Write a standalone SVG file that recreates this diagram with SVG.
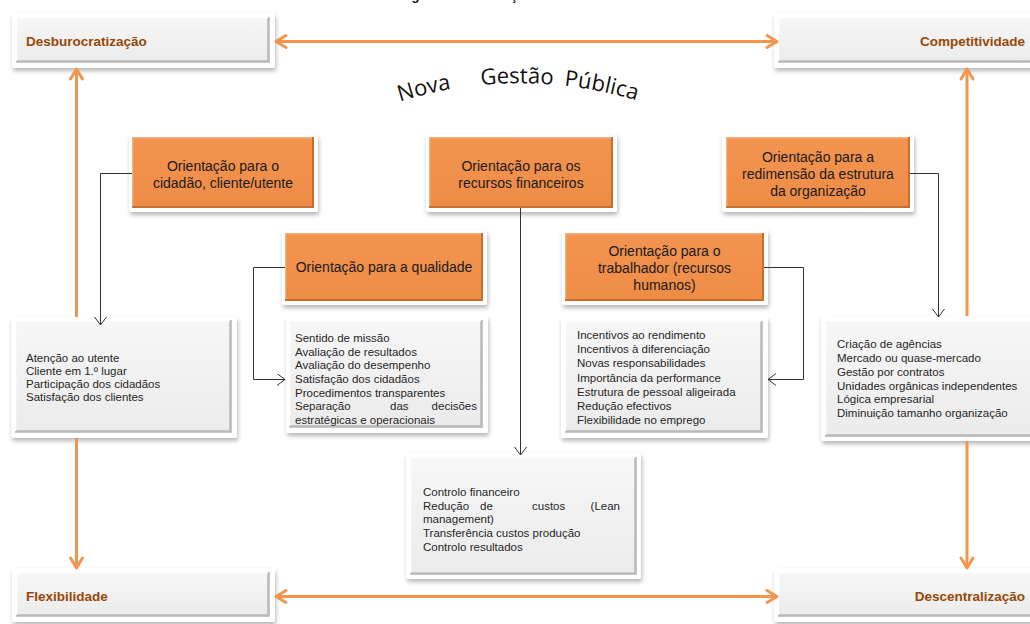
<svg xmlns="http://www.w3.org/2000/svg" width="1030" height="624" viewBox="0 0 1030 624">
  <defs>
    <filter id="shadow" x="-10%" y="-15%" width="125%" height="145%">
      <feDropShadow dx="1" dy="3" stdDeviation="2" flood-color="#000" flood-opacity="0.28"/>
    </filter>
    <linearGradient id="greyFill" x1="0" y1="0" x2="0" y2="1">
      <stop offset="0" stop-color="#F7F7F7"/>
      <stop offset="1" stop-color="#EBEBEB"/>
    </linearGradient>
    <linearGradient id="orangeFill" x1="0" y1="0" x2="0" y2="1">
      <stop offset="0" stop-color="#F29451"/>
      <stop offset="1" stop-color="#EE8C45"/>
    </linearGradient>
    <marker id="orangeHead" markerUnits="userSpaceOnUse" markerWidth="18" markerHeight="18" refX="14" refY="9" orient="auto-start-reverse">
      <path d="M4,3 L14,9 L4,15" fill="none" stroke="#F2954F" stroke-width="3" stroke-linecap="round" stroke-linejoin="round"/>
    </marker>
    <marker id="greyHead" markerUnits="userSpaceOnUse" markerWidth="12" markerHeight="14" refX="9" refY="6" orient="auto">
      <path d="M1,0 L9,6 L1,12" fill="none" stroke="#333" stroke-width="1"/>
    </marker>
    <path id="arch" d="M380,108.5 A400,400 0 0 1 660,108.5" fill="none"/>
  </defs>
  <style>
    .frame { fill: #FFFFFF; filter: url(#shadow); }
    .grey { fill: url(#greyFill); }
    .orange { fill: url(#orangeFill); }
    .bevelDark { fill: none; stroke: #B9B9B9; stroke-width: 2.5; }
    .bevelLight { fill: none; stroke: #FFFFFF; stroke-width: 1.5; }
    .bevelOrangeDark { fill: none; stroke: #C46E30; stroke-width: 2; }
    .bevelOrangeLight { fill: none; stroke: #F6B282; stroke-width: 1.2; }
    .corner { font-family: "Liberation Sans", Arial, sans-serif; font-weight: bold; font-size: 13.5px; fill: #974806; }
    .head { font-family: "Liberation Sans", Arial, sans-serif; font-size: 14px; fill: #1A1A1A; text-anchor: middle; }
    .item { font-family: "Liberation Sans", Arial, sans-serif; font-size: 11.5px; fill: #262626; }
    .arch { font-family: "Open Sans", "Liberation Sans", sans-serif; font-size: 22px; fill: #111; }
    .title { font-family: "Liberation Sans", Arial, sans-serif; font-weight: bold; font-size: 13px; fill: #111; }
    .orangeLink { fill: none; stroke: #F2954F; stroke-width: 3; marker-end: url(#orangeHead); }
    .orangeBoth { fill: none; stroke: #F2954F; stroke-width: 3; marker-start: url(#orangeHead); marker-end: url(#orangeHead); }
    .greyLink { fill: none; stroke: #333; stroke-width: 1; marker-end: url(#greyHead); }
  </style>

  <rect width="1030" height="624" fill="#FFFFFF"/>

  <!-- page title, sitting above the top edge so only its descenders fall inside -->
  <text class="title" x="400" y="0">Figura 2 – Orientações da Nova Gestão Pública</text>

  <!-- arched heading -->
  <g id="heading">
    <text class="arch"><textPath href="#arch" startOffset="21">Nova</textPath></text>
    <text class="arch"><textPath href="#arch" startOffset="104">Gestão</textPath></text>
    <text class="arch"><textPath href="#arch" startOffset="187">Pública</textPath></text>
  </g>

  <!-- corner principles -->
  <g id="desburocratizacao">
    <rect class="frame" x="12" y="13" width="263" height="55" rx="2"/>
    <rect class="grey" x="16" y="17" width="254" height="46"/>
    <path class="bevelDark" d="M16,61.5 H268.5 V17"/>
    <path class="bevelLight" d="M16.5,61 V17.5 H268"/>
    <text class="corner" x="26" y="46">Desburocratização</text>
  </g>
  <g id="competitividade">
    <rect class="frame" x="774" y="13" width="270" height="55" rx="2"/>
    <rect class="grey" x="778" y="17" width="262" height="46"/>
    <path class="bevelDark" d="M778,61.5 H1040"/>
    <path class="bevelLight" d="M778.5,61 V17.5 H1040"/>
    <text class="corner" x="1025" y="46" text-anchor="end">Competitividade</text>
  </g>
  <g id="flexibilidade">
    <rect class="frame" x="12" y="568" width="263" height="54" rx="2"/>
    <rect class="grey" x="16" y="572" width="254" height="45"/>
    <path class="bevelDark" d="M16,615.5 H268.5 V572"/>
    <path class="bevelLight" d="M16.5,615 V572.5 H268"/>
    <text class="corner" x="26" y="601">Flexibilidade</text>
  </g>
  <g id="descentralizacao">
    <rect class="frame" x="774" y="568" width="270" height="54" rx="2"/>
    <rect class="grey" x="778" y="572" width="262" height="45"/>
    <path class="bevelDark" d="M778,615.5 H1040"/>
    <path class="bevelLight" d="M778.5,615 V572.5 H1040"/>
    <text class="corner" x="1025" y="601" text-anchor="end">Descentralização</text>
  </g>

  <!-- orientation headers -->
  <g id="orient-cidadao">
    <rect class="frame" x="129" y="134" width="189" height="78" rx="2"/>
    <rect class="orange" x="132" y="137" width="182" height="71"/>
    <path class="bevelOrangeDark" d="M132,207 H313 V137"/>
    <path class="bevelOrangeLight" d="M132.6,206 V137.6 H312"/>
    <text class="head" x="223" y="171">Orientação para o</text>
    <text class="head" x="223" y="188">cidadão, cliente/utente</text>
  </g>
  <g id="orient-financeiros">
    <rect class="frame" x="426" y="134" width="191" height="78" rx="2"/>
    <rect class="orange" x="429" y="137" width="184" height="71"/>
    <path class="bevelOrangeDark" d="M429,207 H612 V137"/>
    <path class="bevelOrangeLight" d="M429.6,206 V137.6 H611"/>
    <text class="head" x="521" y="171">Orientação para os</text>
    <text class="head" x="521" y="188">recursos financeiros</text>
  </g>
  <g id="orient-estrutura">
    <rect class="frame" x="722" y="134" width="192" height="78" rx="2"/>
    <rect class="orange" x="726" y="137" width="184" height="71"/>
    <path class="bevelOrangeDark" d="M726,207 H909 V137"/>
    <path class="bevelOrangeLight" d="M726.6,206 V137.6 H908"/>
    <text class="head" x="818" y="162">Orientação para a</text>
    <text class="head" x="818" y="179">redimensão da estrutura</text>
    <text class="head" x="818" y="196">da organização</text>
  </g>
  <g id="orient-qualidade">
    <rect class="frame" x="282" y="230" width="205" height="75" rx="2"/>
    <rect class="orange" x="285" y="233" width="198" height="68"/>
    <path class="bevelOrangeDark" d="M285,300 H482 V233"/>
    <path class="bevelOrangeLight" d="M285.6,299 V233.6 H481"/>
    <text class="head" x="384" y="272">Orientação para a qualidade</text>
  </g>
  <g id="orient-trabalhador">
    <rect class="frame" x="562" y="230" width="206" height="75" rx="2"/>
    <rect class="orange" x="565" y="233" width="199" height="68"/>
    <path class="bevelOrangeDark" d="M565,300 H763 V233"/>
    <path class="bevelOrangeLight" d="M565.6,299 V233.6 H762"/>
    <text class="head" x="664.5" y="256">Orientação para o</text>
    <text class="head" x="664.5" y="273">trabalhador (recursos</text>
    <text class="head" x="664.5" y="290">humanos)</text>
  </g>

  <!-- detail lists -->
  <g id="list-cidadao">
    <rect class="frame" x="11" y="317" width="226" height="121" rx="2"/>
    <rect class="grey" x="15" y="320" width="217" height="113"/>
    <path class="bevelDark" d="M15,431.5 H230.5 V320"/>
    <path class="bevelLight" d="M15.5,431 V320.5 H230"/>
    <text class="item" x="26" y="362">Atenção ao utente</text>
    <text class="item" x="26" y="375">Cliente em 1.º lugar</text>
    <text class="item" x="26" y="388">Participação dos cidadãos</text>
    <text class="item" x="26" y="401">Satisfação dos clientes</text>
  </g>
  <g id="list-qualidade">
    <rect class="frame" x="286" y="316" width="202" height="117" rx="2"/>
    <rect class="grey" x="289" y="320" width="194" height="108"/>
    <path class="bevelDark" d="M289,426.5 H481.5 V320"/>
    <path class="bevelLight" d="M289.5,426 V320.5 H481"/>
    <text class="item" x="295" y="342">Sentido de missão</text>
    <text class="item" x="295" y="356">Avaliação de resultados</text>
    <text class="item" x="295" y="369">Avaliação do desempenho</text>
    <text class="item" x="295" y="383">Satisfação dos cidadãos</text>
    <text class="item" x="295" y="397">Procedimentos transparentes</text>
    <text class="item" y="410"><tspan x="295">Separação</tspan><tspan x="390">das</tspan><tspan x="477" text-anchor="end">decisões</tspan></text>
    <text class="item" x="295" y="424">estratégicas e operacionais</text>
  </g>
  <g id="list-financeiros">
    <rect class="frame" x="406" y="453" width="235" height="126" rx="2"/>
    <rect class="grey" x="410" y="457" width="227" height="118"/>
    <path class="bevelDark" d="M410,573.5 H635.5 V457"/>
    <path class="bevelLight" d="M410.5,573 V457.5 H635"/>
    <text class="item" x="423" y="496">Controlo financeiro</text>
    <text class="item" y="510"><tspan x="423">Redução</tspan><tspan x="480">de</tspan><tspan x="532">custos</tspan><tspan x="620" text-anchor="end">(Lean</tspan></text>
    <text class="item" x="423" y="523">management)</text>
    <text class="item" x="423" y="537">Transferência custos produção</text>
    <text class="item" x="423" y="551">Controlo resultados</text>
  </g>
  <g id="list-trabalhador">
    <rect class="frame" x="561" y="317" width="207" height="121" rx="2"/>
    <rect class="grey" x="565" y="321" width="198" height="112"/>
    <path class="bevelDark" d="M565,431.5 H761.5 V321"/>
    <path class="bevelLight" d="M565.5,431 V321.5 H761"/>
    <text class="item" x="577" y="339">Incentivos ao rendimento</text>
    <text class="item" x="577" y="353">Incentivos à diferenciação</text>
    <text class="item" x="577" y="367">Novas responsabilidades</text>
    <text class="item" x="577" y="382">Importância da performance</text>
    <text class="item" x="577" y="396">Estrutura de pessoal aligeirada</text>
    <text class="item" x="577" y="410">Redução efectivos</text>
    <text class="item" x="577" y="424">Flexibilidade no emprego</text>
  </g>
  <g id="list-estrutura">
    <rect class="frame" x="821" y="316" width="220" height="125" rx="2"/>
    <rect class="grey" x="825" y="320" width="215" height="117"/>
    <path class="bevelDark" d="M825,435.5 H1040"/>
    <path class="bevelLight" d="M825.5,435 V320.5 H1040"/>
    <text class="item" x="837" y="348">Criação de agências</text>
    <text class="item" x="837" y="362">Mercado ou quase-mercado</text>
    <text class="item" x="837" y="376">Gestão por contratos</text>
    <text class="item" x="837" y="390">Unidades orgânicas independentes</text>
    <text class="item" x="837" y="403">Lógica empresarial</text>
    <text class="item" x="837" y="417">Diminuição tamanho organização</text>
  </g>

  <!-- connectors -->
  <g id="connectors">
    <path class="orangeBoth" d="M276,41.5 H777"/>
    <path class="orangeBoth" d="M276,596.5 H777"/>
    <path class="orangeLink" d="M76.5,317 V69"/>
    <path class="orangeLink" d="M76.5,438 V568"/>
    <path class="orangeLink" d="M967,316 V69"/>
    <path class="orangeLink" d="M967,441 V568"/>
    <path class="greyLink" d="M132,173.5 H100.5 V325"/>
    <path class="greyLink" d="M285,267.5 H253.5 V379.5 H285"/>
    <path class="greyLink" d="M520.5,208 V455"/>
    <path class="greyLink" d="M764,267.5 H803.5 V379.5 H768"/>
    <path class="greyLink" d="M910,173.5 H938.5 V317"/>
  </g>
</svg>
